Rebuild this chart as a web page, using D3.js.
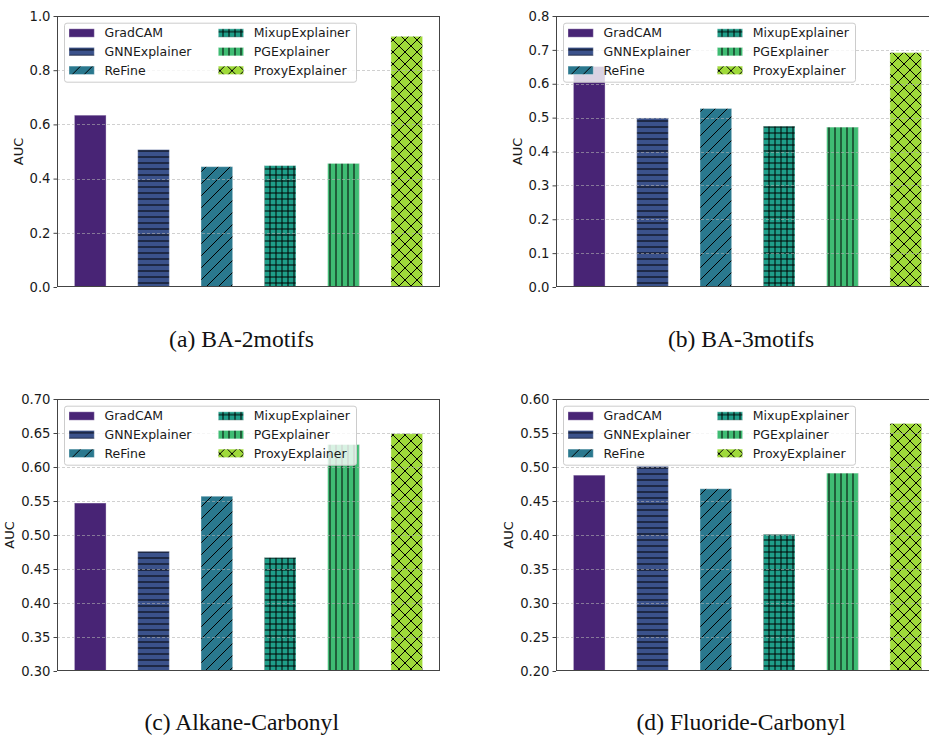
<!DOCTYPE html>
<html>
<head>
<meta charset="utf-8">
<script src="https://cdn.jsdelivr.net/npm/d3@7"></script>
<style>
  html, body { margin: 0; padding: 0; background: #fff; }
  svg { display: block; }
  .tick-label { font-family: "DejaVu Sans", sans-serif; font-size: 13.2px; fill: #1a1a1a; }
  .ylab { font-family: "DejaVu Sans", sans-serif; font-size: 13px; fill: #1a1a1a; }
  .leg { font-family: "DejaVu Sans", sans-serif; font-size: 12.5px; fill: #1a1a1a; }
  .caption { font-family: "Liberation Serif", "Times New Roman", serif; font-size: 23.6px; fill: #111; }
</style>
</head>
<body>
<svg id="chart" width="929" height="735"></svg>
<script>
// Methods compared in every panel
const categories = ["GradCAM", "GNNExplainer", "ReFine", "MixupExplainer", "PGExplainer", "ProxyExplainer"];
const barColors = ["#482475", "#3b528b", "#2a788e", "#1f9e89", "#3fbc73", "#9fda3a"];
const hatches = ["", "-", "/", "+", "|", "x"];

// AUC per dataset
const aucBA2motifs = [0.634, 0.507, 0.444, 0.448, 0.456, 0.925];
const aucBA3motifs = [0.651, 0.499, 0.527, 0.475, 0.472, 0.692];
const aucAlkaneCarbonyl = [0.547, 0.476, 0.557, 0.467, 0.633, 0.649];
const aucFluorideCarbonyl = [0.488, 0.501, 0.468, 0.401, 0.491, 0.564];

// Y tick values per panel
const ticksBA2 = [0.0, 0.2, 0.4, 0.6, 0.8, 1.0];
const ticksBA3 = [0.0, 0.1, 0.2, 0.3, 0.4, 0.5, 0.6, 0.7, 0.8];
const ticksAlkane = [0.30, 0.35, 0.40, 0.45, 0.50, 0.55, 0.60, 0.65, 0.70];
const ticksFluoride = [0.20, 0.25, 0.30, 0.35, 0.40, 0.45, 0.50, 0.55, 0.60];

const captions = ["(a) BA-2motifs", "(b) BA-3motifs", "(c) Alkane-Carbonyl", "(d) Fluoride-Carbonyl"];

const panels = [
  { values: aucBA2motifs, ticks: ticksBA2, fmt: ".1f", x: 57, y: 16, h: 271, capX: 241.5, capY: 347 },
  { values: aucBA3motifs, ticks: ticksBA3, fmt: ".1f", x: 556, y: 16, h: 271, capX: 741, capY: 347 },
  { values: aucAlkaneCarbonyl, ticks: ticksAlkane, fmt: ".2f", x: 57, y: 399, h: 272, capX: 241.7, capY: 730 },
  { values: aucFluorideCarbonyl, ticks: ticksFluoride, fmt: ".2f", x: 556, y: 399, h: 272, capX: 741, capY: 730 }
];
const axW = 383;

const svg = d3.select("#chart");
const defs = svg.append("defs");

// Hatch patterns (black strokes over the bar colour)
function makePattern(id, color, hatch) {
  const size = (hatch === "/" || hatch === "x") ? 12 : 6;
  const p = defs.append("pattern")
    .attr("id", id)
    .attr("patternUnits", "userSpaceOnUse")
    .attr("width", size).attr("height", size);
  p.append("rect").attr("width", size).attr("height", size).attr("fill", color);
  const line = (x1, y1, x2, y2) => p.append("line")
    .attr("x1", x1).attr("y1", y1).attr("x2", x2).attr("y2", y2)
    .attr("stroke", "#000").attr("stroke-width", 1);
  if (hatch === "-" || hatch === "+") line(0, 3, size, 3);
  if (hatch === "|" || hatch === "+") line(3, 0, 3, size);
  if (hatch === "/" || hatch === "x") {
    line(-1, size + 1, size + 1, -1);
    line(-1, 1, 1, -1);
    line(size - 1, size + 1, size + 1, size - 1);
  }
  if (hatch === "x") {
    line(-1, -1, size + 1, size + 1);
    line(size - 1, -1, size + 1, 1);
    line(-1, size - 1, 1, size + 1);
  }
}
categories.forEach((c, i) => makePattern("hatch" + i, barColors[i], hatches[i]));
const fillFor = i => hatches[i] ? `url(#hatch${i})` : barColors[i];

panels.forEach((pn, pi) => {
  const g = svg.append("g").attr("transform", `translate(${pn.x},${pn.y})`);
  const x = d3.scaleLinear().domain([-0.525, categories.length - 0.475]).range([0, axW]);
  const y = d3.scaleLinear().domain([pn.ticks[0], pn.ticks[pn.ticks.length - 1]]).range([pn.h, 0]);

  const clipId = "clip" + pi;
  defs.append("clipPath").attr("id", clipId)
    .append("rect").attr("width", axW).attr("height", pn.h);

  const plot = g.append("g").attr("clip-path", `url(#${clipId})`);

  // bars
  plot.selectAll("rect.bar")
    .data(pn.values)
    .join("rect")
    .attr("class", "bar")
    .attr("x", (d, i) => x(i - 0.25))
    .attr("width", (d, i) => x(i + 0.25) - x(i - 0.25))
    .attr("y", d => y(d))
    .attr("height", d => pn.h - y(d) + 2)
    .attr("fill", (d, i) => fillFor(i))
    .attr("stroke", "#fff")
    .attr("stroke-opacity", 0.35)
    .attr("stroke-width", 1);

  // dashed horizontal grid above the bars
  plot.selectAll("line.grid")
    .data(pn.ticks)
    .join("line")
    .attr("class", "grid")
    .attr("x1", 0).attr("x2", axW)
    .attr("y1", d => Math.round(y(d)) + 0.5).attr("y2", d => Math.round(y(d)) + 0.5)
    .attr("stroke", "#b0b0b0")
    .attr("stroke-opacity", 0.6)
    .attr("stroke-dasharray", "3,2")
    .attr("stroke-width", 1);

  // y axis
  const yAxis = d3.axisLeft(y).tickValues(pn.ticks).tickFormat(d3.format(pn.fmt))
    .tickSizeInner(3.5).tickSizeOuter(0).tickPadding(3);
  const ya = g.append("g").call(yAxis);
  ya.select(".domain").remove();
  ya.selectAll(".tick line").attr("stroke", "#444");
  ya.selectAll(".tick text").attr("class", "tick-label").attr("fill", null)
    .attr("font-family", null).attr("font-size", null);

  // frame
  g.append("rect")
    .attr("x", 0.5).attr("y", 0.5)
    .attr("width", axW - 1).attr("height", pn.h - 1)
    .attr("fill", "none").attr("stroke", "#444").attr("stroke-width", 1);

  // axis label
  const labelX = pi % 2 === 0 ? (pi === 0 ? -39 : -48) : (pi === 1 ? -39 : -48);
  g.append("text")
    .attr("class", "ylab")
    .attr("transform", `translate(${labelX},${pn.h / 2}) rotate(-90)`)
    .attr("text-anchor", "middle")
    .attr("dy", "0.35em")
    .text("AUC");

  // legend
  const lg = g.append("g").attr("transform", "translate(7,6.7)");
  lg.append("rect")
    .attr("x", 0.5).attr("y", 0.5).attr("width", 292).attr("height", 59)
    .attr("rx", 2.5)
    .attr("fill", "#fff").attr("fill-opacity", 0.8)
    .attr("stroke", "#cccccc").attr("stroke-width", 1);
  categories.forEach((c, i) => {
    const col = Math.floor(i / 3), row = i % 3;
    const hx = col === 0 ? 5 : 154.3;
    const cy = 10.3 + row * 18.65;
    const item = lg.append("g");
    item.append("rect")
      .attr("x", hx).attr("y", cy - 4.2)
      .attr("width", 25.3).attr("height", 8.4)
      .attr("fill", fillFor(i))
      .attr("stroke", "#fff").attr("stroke-opacity", 0.35).attr("stroke-width", 1);
    item.append("text")
      .attr("class", "leg")
      .attr("x", hx + 35.5).attr("y", cy)
      .attr("dy", "0.36em")
      .text(c);
  });

  // caption under the panel
  svg.append("text")
    .attr("class", "caption")
    .attr("x", pn.capX).attr("y", pn.capY)
    .attr("text-anchor", "middle")
    .text(captions[pi]);
});
</script>
</body>
</html>
